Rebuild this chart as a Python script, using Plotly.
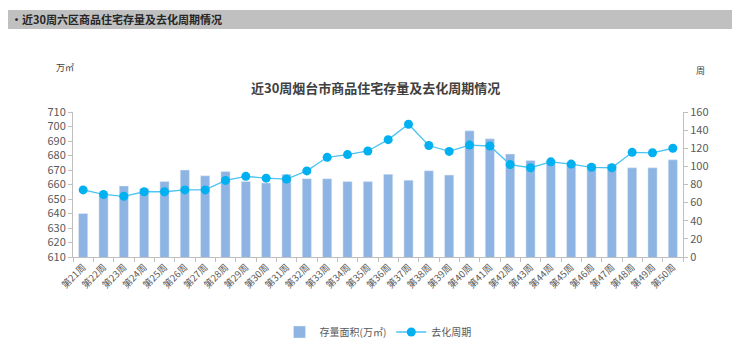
import plotly.graph_objects as go

weeks = [f"第{i}周" for i in range(21, 51)]
stock = [640, 652, 659, 657, 662, 670, 666, 669, 662, 661,
         667, 664, 664, 662, 662, 667, 663, 669.5, 666.5, 697,
         691.5, 681, 676.5, 676, 675, 674, 674, 671.5, 671.5, 677]
cycle = [74, 69, 67, 72, 72, 74, 74, 84.5, 89, 87,
         86, 95, 110, 113, 117, 129.5, 146.5, 123, 116.5, 123.5,
         122.5, 102, 98.5, 105, 102.5, 99, 98.5, 115.5, 115, 120]

OFF = 8  # default page body margin
W, H = 740 - OFF, 357 - OFF
# plot area in page pixels
PL, PR, PT, PB = 73, 683, 112, 257
L, R, T, B = PL - OFF, W - (PR - OFF), PT - OFF, H - (PB - OFF)
pw, ph = PR - PL, PB - PT
def px(x): return (x - PL) / pw
def py(y): return (PB - y) / ph

font = "Noto Sans CJK SC, Open Sans, sans-serif"
fig = go.Figure()
fig.add_trace(go.Bar(x=weeks, y=stock, name="存量面积(万㎡)", marker_color="#8db4e2",
                     width=0.45, yaxis="y"))
fig.add_trace(go.Scatter(x=weeks, y=cycle, name="去化周期", mode="lines+markers",
                         line=dict(color="#4cc3f2", width=1.3),
                         marker=dict(color="#00b0f0", size=9), yaxis="y2"))

fig.update_layout(
    width=W, height=H, margin=dict(l=L, r=R, t=T, b=B, autoexpand=False),
    plot_bgcolor="white", paper_bgcolor="white",
    font=dict(family=font, size=11, color="#595959"),
    showlegend=True,
    legend=dict(orientation="h", x=0.5, xanchor="center", y=py(332), yanchor="middle",
                font=dict(size=10, color="#595959"), traceorder="normal"),
    bargap=0.55,
    xaxis=dict(type="category", range=[-0.5, len(weeks) - 0.5], showline=True,
               linecolor="#bfbfbf", ticks="outside",
               tickcolor="#bfbfbf", ticklen=4, tickangle=-45, tickson="boundaries",
               tickfont=dict(size=9.5, color="#595959"), showgrid=False, automargin=False),
    yaxis=dict(range=[610, 710], dtick=10, showline=True, linecolor="#bfbfbf",
               ticks="outside", tickcolor="#bfbfbf", ticklen=4, showgrid=False,
               zeroline=False, tickfont=dict(size=11, color="#595959"), automargin=False),
    yaxis2=dict(range=[0, 160], dtick=20, overlaying="y", side="right", showline=True,
                linecolor="#bfbfbf", ticks="outside", tickcolor="#bfbfbf", ticklen=4,
                showgrid=False, zeroline=False, tickfont=dict(size=11, color="#595959"),
                automargin=False),
    shapes=[dict(type="rect", xref="paper", yref="paper", x0=px(7), x1=px(733),
                 y0=py(29), y1=py(10), fillcolor="#c0c0c0", line=dict(width=0), layer="below")],
    annotations=[
        dict(text="<b>•近30周六区商品住宅存量及去化周期情况</b>", xref="paper", yref="paper",
             x=px(9), y=py(19.5), xanchor="left", yanchor="middle", showarrow=False,
             font=dict(size=11, color="#262626")),
        dict(text="<b>近30周烟台市商品住宅存量及去化周期情况</b>", xref="paper", yref="paper",
             x=px(375), y=py(87), xanchor="center", yanchor="middle", showarrow=False,
             font=dict(size=13, color="#404040")),
        dict(text="万㎡", xref="paper", yref="paper", x=px(54), y=py(67), xanchor="left",
             yanchor="middle", showarrow=False, font=dict(size=9, color="#404040")),
        dict(text="周", xref="paper", yref="paper", x=px(694), y=py(70), xanchor="left",
             yanchor="middle", showarrow=False, font=dict(size=9, color="#404040")),
    ],
)
fig.write_html("out.html")
